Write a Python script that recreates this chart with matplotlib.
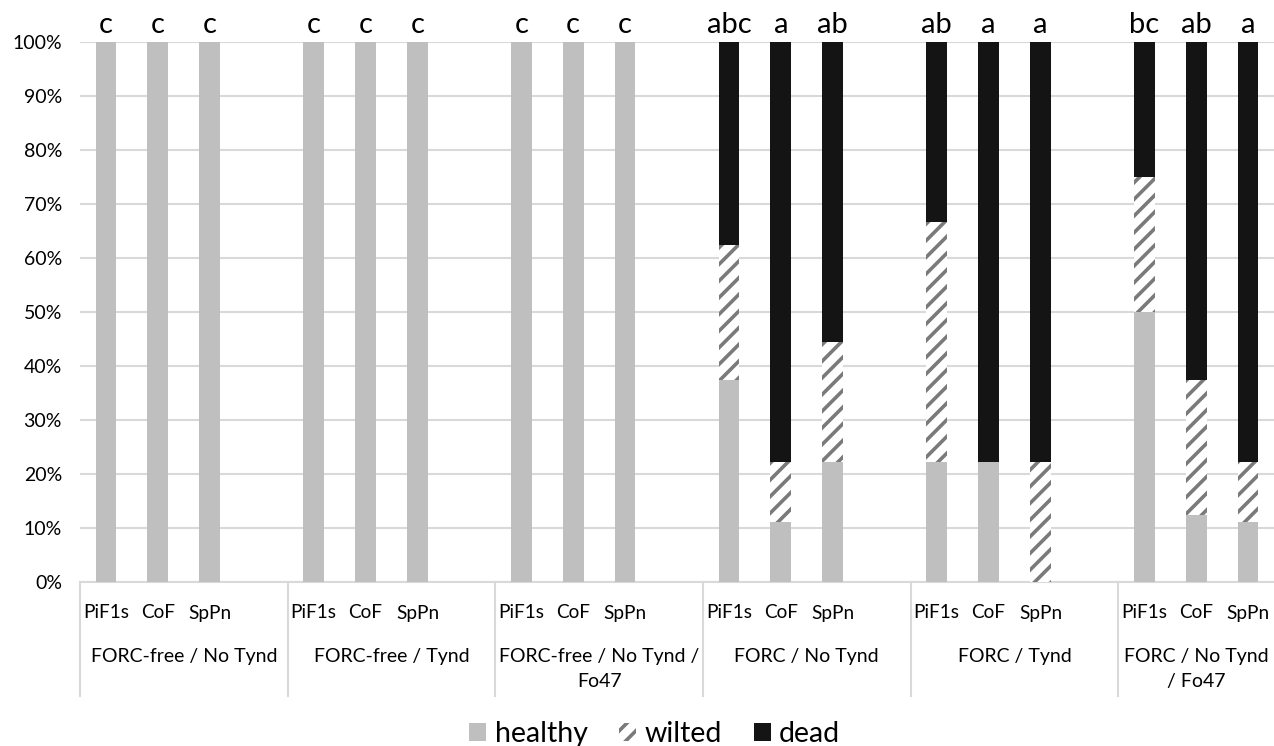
import matplotlib
matplotlib.use("Agg")
import matplotlib.pyplot as plt
from matplotlib.patches import Patch
from matplotlib.ticker import PercentFormatter

plt.rcParams['font.family'] = ['Lato', 'DejaVu Sans']
plt.rcParams['hatch.linewidth'] = 2.6
plt.rcParams['hatch.color'] = '#7a7a7a'

groups = ["FORC-free / No Tynd", "FORC-free / Tynd", "FORC-free / No Tynd /\nFo47",
          "FORC / No Tynd", "FORC / Tynd", "FORC / No Tynd\n/ Fo47"]
strains = ["PiF1s", "CoF", "SpPn"]

healthy = [100, 100, 100,
           100, 100, 100,
           100, 100, 100,
           37.5, 11.1, 22.2,
           22.2, 22.2, 0.0,
           50.0, 12.5, 11.1]
wilted = [0, 0, 0,
          0, 0, 0,
          0, 0, 0,
          25.0, 11.1, 22.2,
          44.5, 0.0, 22.2,
          25.0, 25.0, 11.1]
dead = [0, 0, 0,
        0, 0, 0,
        0, 0, 0,
        37.5, 77.8, 55.6,
        33.3, 77.8, 77.8,
        25.0, 62.5, 77.8]
letters = ["c", "c", "c",
           "c", "c", "c",
           "c", "c", "c",
           "abc", "a", "ab",
           "ab", "a", "a",
           "bc", "ab", "a"]

c_healthy = '#bfbfbf'
c_dead = '#141414'

fig = plt.figure(figsize=(12.74, 7.46), dpi=100)
ax = fig.add_axes([80/1274, 1-582/746, 1-80/1274, 540/746])

slots_per_group = 4
xs = [g * slots_per_group + i for g in range(len(groups)) for i in range(len(strains))]
w = 0.40

bottom2 = [h + wl for h, wl in zip(healthy, wilted)]
ax.bar(xs, healthy, width=w, color=c_healthy, zorder=3)
ax.bar(xs, wilted, width=w, bottom=healthy, facecolor='white', hatch='//',
       edgecolor='#7a7a7a', linewidth=0, zorder=3)
ax.bar(xs, dead, width=w, bottom=bottom2, color=c_dead, zorder=3)

n_slots = len(groups) * slots_per_group - 1
ax.set_xlim(-0.5, n_slots - 0.5)
ax.set_ylim(0, 100)
ax.set_yticks(range(0, 101, 10))
ax.yaxis.set_major_formatter(PercentFormatter(decimals=0))
ax.grid(axis='y', color='#d9d9d9', linewidth=1.5, zorder=0)
for s in ['top', 'right', 'left']:
    ax.spines[s].set_visible(False)
ax.spines['bottom'].set_color('#d9d9d9')
ax.spines['bottom'].set_linewidth(1.5)
ax.tick_params(axis='y', length=0, labelsize=14, pad=13, labelcolor='#000000')
ax.set_xticks([])

trans = ax.get_xaxis_transform()
# strain labels
for x, s in zip(xs, strains * len(groups)):
    ax.text(x, -31/540, s, transform=trans, ha='center', va='center', fontsize=13.7)
# group labels (centred on each group's span) and separators
bounds = [g * slots_per_group - 0.5 for g in range(len(groups))] + [n_slots - 0.5]
for g, name in enumerate(groups):
    cx = (bounds[g] + bounds[g + 1]) / 2
    ax.text(cx, -66/540, name, transform=trans, ha='center', va='top', fontsize=14,
            linespacing=1.6)
for b in bounds[:-1]:
    ax.plot([b, b], [0, -114/540], transform=trans, color='#d9d9d9', lw=1.5,
            clip_on=False)
# significance letters
for x, l in zip(xs, letters):
    ax.annotate(l, (x, 100), xytext=(0, 3), textcoords='offset points',
                ha='center', va='bottom', fontsize=21)

handles = [Patch(facecolor=c_healthy, label='healthy'),
           Patch(facecolor='white', hatch='//', edgecolor='#7a7a7a', linewidth=0, label='wilted'),
           Patch(facecolor=c_dead, label='dead')]
fig.legend(handles=handles, loc='center', bbox_to_anchor=(0.514, 1 - 734/746), ncol=3,
           frameon=False, fontsize=20.5, handlelength=0.6, handleheight=0.6,
           handletextpad=0.3, columnspacing=1.1)

fig.savefig('out.png', dpi=100)
